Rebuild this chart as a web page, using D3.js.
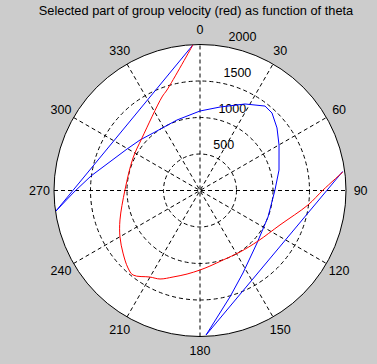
<!DOCTYPE html>
<html>
<head>
  <meta charset="UTF-8">
  <title>group velocity</title>
  <style>
    body{ margin:0; background:#cccccc; }
    svg text{ font-family:"Liberation Sans", Arial, sans-serif; fill:#000; }
    .grid{ fill:none; stroke:#000; stroke-width:1px; stroke-dasharray:4,3; }
  </style>
</head>
<body>
<svg id="chart" width="377" height="364"></svg>

<script src="https://d3js.org/d3.v7.min.js"></script>
<script>
  "use strict";

  var title = "Selected part of group velocity (red) as function of theta";
  var ringTicks = [500, 1000, 1500, 2000];
  var angleTicks = [0, 30, 60, 90, 120, 150, 180, 210, 240, 270, 300, 330];
  var rMax = 2000;

  // selected part (red), angle in degrees clockwise from top
  var redTheta = [82.6, 89.8, 97.6, 113.3, 131.1, 147.0, 161.7, 172.5, 180.0, 188.8, 197.3,
                  204.3, 210.0, 218.4, 222.9, 230.9, 239.8, 249.8, 270.4, 295.9, 312.2, 337.9, 341.8, 357.2];
  var redR     = [1975, 1685, 1493, 1193, 1054, 1005, 1003, 1044, 1089, 1158, 1241,
                  1330, 1369, 1477, 1449, 1359, 1268, 1168, 1028, 1020, 1072, 1383, 1449, 1996];

  // full curve (blue)
  var blueTheta = [357.2, 261.9, 269.3, 277.6, 299.6, 310.1, 322.4, 341.9, 360.0, 373.5, 387.5,
                   397.6, 402.9, 410.9, 420.1, 435.5, 449.6, 471.3, 492.6, 512.5, 524.3, 537.6, 442.4];
  var blueR     = [1996, 1993, 1726, 1506, 1150, 1074, 1011, 1016, 1089, 1176, 1336,
                   1460, 1449, 1359, 1249, 1118, 1027, 1000, 1062, 1274, 1515, 1981, 1972];

  var cx = 200, cy = 190.5, R = 146;

  var svg = d3.select("#chart");
  var rad = d3.scaleLinear().domain([0, rMax]).range([0, R]);
  var toRad = function(d){ return d * Math.PI / 180; };

  var g = svg.append("g").attr("transform", "translate(" + cx + "," + cy + ")");

  g.append("circle").attr("r", R).attr("fill", "#fff");

  // spokes through the center
  g.selectAll("line.spoke")
    .data(angleTicks.filter(function(a){ return a < 180; }))
    .enter().append("line")
    .attr("class", "grid")
    .attr("x1", function(a){ return -R * Math.sin(toRad(a)); })
    .attr("y1", function(a){ return  R * Math.cos(toRad(a)); })
    .attr("x2", function(a){ return  R * Math.sin(toRad(a)); })
    .attr("y2", function(a){ return -R * Math.cos(toRad(a)); });

  g.selectAll("circle.ring")
    .data(ringTicks.slice(0, -1))
    .enter().append("circle")
    .attr("class", "grid")
    .attr("r", function(d){ return rad(d); });

  g.append("circle").attr("r", R).attr("fill", "none").attr("stroke", "#000");

  // ring labels
  var s8 = Math.sin(toRad(8)), c8 = Math.cos(toRad(8));
  g.selectAll("text.rl")
    .data(ringTicks)
    .enter().append("text")
    .attr("font-size", 12.5)
    .attr("x", function(d){ return 8 + rad(d + 25) * s8; })
    .attr("y", function(d){ return -rad(d + 25) * c8 - 3.5; })
    .text(function(d){ return d; });

  // angle labels
  g.selectAll("text.al")
    .data(angleTicks)
    .enter().append("text")
    .attr("font-size", 12.5)
    .attr("text-anchor", "middle")
    .attr("dominant-baseline", "central")
    .attr("x", function(a){ return  1.1 * R * Math.sin(toRad(a)); })
    .attr("y", function(a){ return -1.1 * R * Math.cos(toRad(a)); })
    .text(function(a){ return a; });

  var radial = d3.lineRadial()
    .angle(function(d){ return toRad(d[0]); })
    .radius(function(d){ return rad(d[1]); });

  g.append("path")
    .datum(d3.zip(blueTheta, blueR))
    .attr("fill", "none").attr("stroke", "#0000ff").attr("stroke-width", 1)
    .attr("d", radial.curve(d3.curveLinear));

  g.append("path")
    .datum(d3.zip(redTheta, redR))
    .attr("fill", "none").attr("stroke", "#ff0000").attr("stroke-width", 1)
    .attr("d", radial.curve(d3.curveCatmullRom));

  svg.append("text")
    .attr("x", 196).attr("y", 10)
    .attr("font-size", 12.8)
    .attr("text-anchor", "middle")
    .attr("dominant-baseline", "central")
    .text(title);
</script>
</body>
</html>
